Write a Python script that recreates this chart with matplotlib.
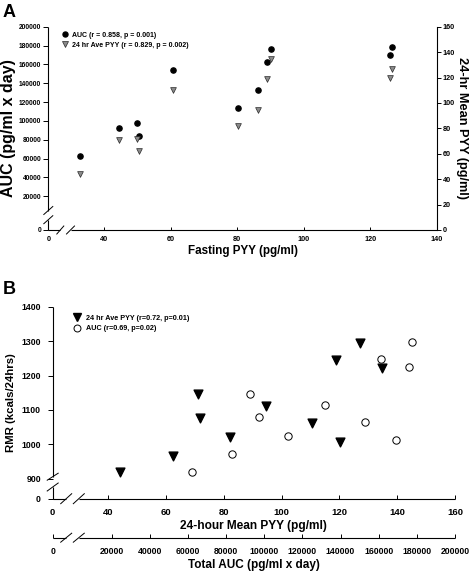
import matplotlib
matplotlib.use("Agg")
import matplotlib.pyplot as plt
from matplotlib.lines import Line2D

plt.rcParams['font.family'] = ['Liberation Sans', 'DejaVu Sans']
plt.rcParams['font.weight'] = 'bold'

# ---------------- data ----------------
# Panel A
fasting_pyy = [32.8, 44.5, 49.9, 50.6, 60.7, 80.3, 86.3, 89.0, 90.1, 126.0, 126.5]
auc_a = [63100, 92800, 97500, 84000, 153700, 113400, 132500, 162500, 176300, 169600, 178100]
mean_pyy_a = [43.8, 70.6, 71.4, 62.2, 110.2, 81.9, 94.4, 118.6, 134.6, 119.9, 127.0]

# Panel B
mean_pyy_b = [44.0, 62.3, 71.0, 71.6, 82.0, 94.5, 110.5, 118.8, 120.3, 127.1, 134.8]
rmr_vs_pyy = [918.6, 966.9, 1145.3, 1077.3, 1022, 1111.3, 1062, 1244, 1007.6, 1293.6, 1222.7]
auc_b = [62260, 82900, 92500, 97070, 112600, 131700, 153000, 161400, 168900, 176000, 177600]
rmr_vs_auc = [920, 971, 1147, 1080, 1024, 1115, 1065.7, 1248, 1011.6, 1225.6, 1296.5]

legend_a = ['AUC (r = 0.858, p = 0.001)', '24 hr Ave PYY (r = 0.829, p = 0.002)']
legend_b = ['24 hr Ave PYY (r=0.72, p=0.01)', 'AUC (r=0.69, p=0.02)']

a_x_ticks = [40, 60, 80, 100, 120, 140]
a_left_ticks = [20000, 40000, 60000, 80000, 100000, 120000, 140000, 160000, 180000, 200000]
a_right_ticks = [0, 20, 40, 60, 80, 100, 120, 140, 160]
b_x_ticks = [40, 60, 80, 100, 120, 140, 160]
b_y_ticks = [900, 1000, 1100, 1200, 1300, 1400]
b_auc_ticks = [20000, 40000, 60000, 80000, 100000, 120000, 140000, 160000, 180000, 200000]

# broken-axis lower limits (the "0" position)
A_XMIN, A_YMIN = 23.26, -15766
B_XMIN, B_YMIN, B_AUCMIN = 20.75, 841.9, -10935

W, H = 472, 571
fig = plt.figure(figsize=(W / 100, H / 100), dpi=100)

LW = 0.8


def seg(ax, xs, ys):
    ax.plot(xs, ys, transform=ax.transAxes, clip_on=False, color='black', lw=LW,
            solid_capstyle='butt')


def slash(ax, cx, cy, wpx, hpx, axw, axh):
    ax.plot([cx - wpx / 2 / axw, cx + wpx / 2 / axw],
            [cy - hpx / 2 / axh, cy + hpx / 2 / axh],
            transform=ax.transAxes, clip_on=False, color='black', lw=0.7)


# ================= Panel A =================
axA_px = (48.3, 26.7, 436.7, 230.0)  # left, top, right, bottom
aw = axA_px[2] - axA_px[0]
ah = axA_px[3] - axA_px[1]
axA = fig.add_axes([axA_px[0] / W, 1 - axA_px[3] / H, aw / W, ah / H])
axAr = axA.twinx()

axA.scatter(fasting_pyy, auc_a, s=14, marker='o', color='black', zorder=3)
axAr.scatter(fasting_pyy, mean_pyy_a, s=17, marker='v', facecolor='#8a8a8a',
             edgecolor='#2a2a2a', linewidths=0.5, zorder=3)

axA.set_xlim(A_XMIN, 140)
axA.set_ylim(A_YMIN, 200000)
axAr.set_ylim(0, 160)

axA.set_xticks([A_XMIN] + a_x_ticks)
axA.set_xticklabels(['0'] + [str(t) for t in a_x_ticks])
axA.set_yticks([A_YMIN] + a_left_ticks)
axA.set_yticklabels(['0'] + [str(t) for t in a_left_ticks])
axAr.set_yticks(a_right_ticks)
axAr.set_yticklabels([str(t) for t in a_right_ticks])

for sp in axA.spines.values():
    sp.set_visible(False)
for name, sp in axAr.spines.items():
    sp.set_visible(name == 'right')
    sp.set_linewidth(LW)

axA.tick_params(axis='x', direction='in', length=2.5, width=0.7, pad=4, labelsize=5.2)
axA.tick_params(axis='y', direction='out', length=3.5, width=0.7, pad=1.5, labelsize=4.8)
axAr.tick_params(axis='y', direction='out', length=3, width=0.7, pad=1.5, labelsize=5.2)

# broken spines
gy0 = (axA_px[3] - 219.7) / ah
gy1 = (axA_px[3] - 210.5) / ah
seg(axA, [0, 0], [0, gy0])
seg(axA, [0, 0], [gy1, 1])
slash(axA, 0, gy0, 9, 8, aw, ah)
slash(axA, 0, gy1, 9, 8, aw, ah)
gx0 = (60.3 - axA_px[0]) / aw
gx1 = (70.5 - axA_px[0]) / aw
seg(axA, [0, gx0], [0, 0])
seg(axA, [gx1, 1], [0, 0])
slash(axA, gx0, 0, 7, 8, aw, ah)
slash(axA, gx1, 0, 8, 8, aw, ah)

axA.set_xlabel('Fasting PYY (pg/ml)', fontsize=8.4, fontweight='bold', labelpad=2)
axA.set_ylabel('AUC (pg/ml x day)', fontsize=11.5, fontweight='bold', labelpad=2)
axAr.set_ylabel('24-hr Mean PYY (pg/ml)', fontsize=9.2, fontweight='bold',
                rotation=270, labelpad=9)

hA = [Line2D([], [], ls='none', marker='o', color='black', markersize=3.6),
      Line2D([], [], ls='none', marker='v', markerfacecolor='#8a8a8a',
             markeredgecolor='#2a2a2a', markeredgewidth=0.5, markersize=4)]
axAr.legend(hA, legend_a, loc='upper left', bbox_to_anchor=(0.034, 0.975),
            frameon=False, fontsize=5, handlelength=1.0, handletextpad=0.5,
            borderpad=0, borderaxespad=0, labelspacing=0.45,
            prop={'weight': 'bold', 'size': 5})

fig.text(3 / W, 1 - 4 / H, 'A', fontsize=13, fontweight='bold', va='top', ha='left')

# ================= Panel B =================
axB_px = (52.7, 306.7, 455.0, 498.7)
bw = axB_px[2] - axB_px[0]
bh = axB_px[3] - axB_px[1]
axB = fig.add_axes([axB_px[0] / W, 1 - axB_px[3] / H, bw / W, bh / H])
axB2 = axB.twiny()

axB.scatter(mean_pyy_b, rmr_vs_pyy, s=40, marker='v', color='black', zorder=3)
axB2.scatter(auc_b, rmr_vs_auc, s=28, marker='o', facecolor='white',
             edgecolor='black', linewidths=0.7, zorder=3)

axB.set_xlim(B_XMIN, 160)
axB.set_ylim(B_YMIN, 1400)
axB2.set_xlim(B_AUCMIN, 200000)

axB.set_xticks([B_XMIN] + b_x_ticks)
axB.set_xticklabels(['0'] + [str(t) for t in b_x_ticks])
axB.set_yticks([B_YMIN] + b_y_ticks)
axB.set_yticklabels(['0'] + [str(t) for t in b_y_ticks])
axB2.set_xticks([B_AUCMIN] + b_auc_ticks)
axB2.set_xticklabels(['0'] + [str(t) for t in b_auc_ticks])

for sp in axB.spines.values():
    sp.set_visible(False)
for sp in axB2.spines.values():
    sp.set_visible(False)

off_px = 537.7 - axB_px[3]
axB2.xaxis.set_ticks_position('bottom')
axB2.xaxis.set_label_position('bottom')
axB2.spines['bottom'].set_position(('outward', off_px * 0.72))

axB.tick_params(axis='x', direction='in', length=3, width=0.7, pad=6.5, labelsize=6.8)
axB.tick_params(axis='y', direction='out', length=3.5, width=0.7, pad=5, labelsize=6.3)
axB2.tick_params(axis='x', direction='in', length=3, width=0.7, pad=7, labelsize=6.2)

gy0 = (axB_px[3] - 487.0) / bh
gy1 = (axB_px[3] - 476.7) / bh
seg(axB, [0, 0], [0, gy0])
seg(axB, [0, 0], [gy1, 1])
slash(axB, 0, gy0, 11, 8, bw, bh)
slash(axB, 0, gy1, 11, 7, bw, bh)
gx0 = (66.2 - axB_px[0]) / bw
gx1 = (78.8 - axB_px[0]) / bw
seg(axB, [0, gx0], [0, 0])
seg(axB, [gx1, 1], [0, 0])
slash(axB, gx0, 0, 11, 10, bw, bh)
slash(axB, gx1, 0, 11, 10, bw, bh)
yb = -off_px / bh
seg(axB, [0, gx0], [yb, yb])
seg(axB, [gx1, 1], [yb, yb])
slash(axB, gx0, yb, 11, 9, bw, bh)
slash(axB, gx1, yb, 11, 9, bw, bh)

axB.set_xlabel('24-hour Mean PYY (pg/ml)', fontsize=8.6, fontweight='bold', labelpad=2)
axB2.set_xlabel('Total AUC (pg/ml x day)', fontsize=8.5, fontweight='bold', labelpad=2)
axB.set_ylabel('RMR (kcals/24hrs)', fontsize=8.2, fontweight='bold', labelpad=4)

hB = [Line2D([], [], ls='none', marker='v', color='black', markersize=6),
      Line2D([], [], ls='none', marker='o', markerfacecolor='white',
             markeredgecolor='black', markeredgewidth=0.7, markersize=5)]
axB2.legend(hB, legend_b, loc='upper left', bbox_to_anchor=(0.049, 0.957),
            frameon=False, handlelength=1.2, handletextpad=0.75,
            borderpad=0, borderaxespad=0, labelspacing=0.45,
            prop={'weight': 'bold', 'size': 5.2})

fig.text(3 / W, 1 - 281 / H, 'B', fontsize=13, fontweight='bold', va='top', ha='left')

fig.savefig('out.png', dpi=100)
